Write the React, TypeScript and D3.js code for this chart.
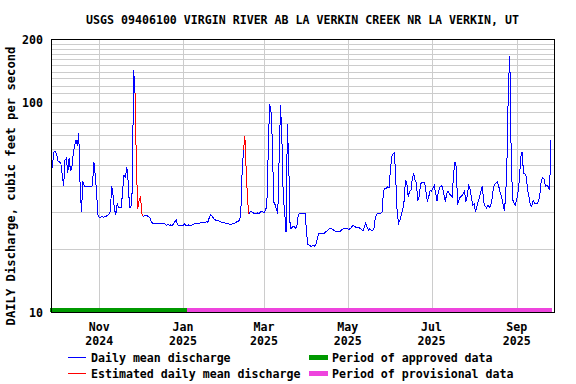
import React from 'react';
import * as d3 from 'd3';

const title = 'USGS 09406100 VIRGIN RIVER AB LA VERKIN CREEK NR LA VERKIN, UT';
const yAxisLabel = 'DAILY Discharge, cubic feet per second';

// first daily value date, then one value per day
const firstDay = '2024-09-27';
const discharge = [
  46, 51, 58, 58, 56, 52, 52, 51, 45, 40,
  53, 54, 46, 54, 47, 49, 57, 62, 66, 62,
  71, 40, 30, 42, 40, 39.5, 39.5, 39.5, 39.5, 39.5,
  40, 52, 45, 37, 29, 28.3, 28.3, 28.5, 28.3, 28.5,
  28.6, 28.9, 29.3, 30, 40, 36, 31, 29, 33, 31.5,
  31.4, 31.4, 38, 45, 44, 49, 42, 31.4, 31.4, 38,
  142, 110, 50, 31, 34, 35.5, 29.5, 28.6, 28.7, 28.7,
  28.7, 28.5, 28, 26.8, 26.5, 26.5, 26.5, 26.5, 26.5, 26.5,
  26.5, 26.5, 26.5, 26.2, 25.8, 26.2, 25.8, 26, 25.8, 26.2,
  26.9, 27.5, 26, 25.7, 25.7, 25.7, 25.7, 26.3, 25.9, 25.7,
  26, 25.8, 25.9, 26, 26.3, 26.5, 26.5, 26.3, 26.5, 26.8,
  26.8, 26.8, 26.7, 26.9, 26.8, 28, 29, 28.8, 28.1, 27.5,
  27.4, 27.4, 27.2, 26.9, 26.8, 26.6, 26.6, 26.5, 26.4, 26.3,
  26.1, 26.2, 26.3, 26.5, 26.6, 26.9, 26.9, 27.4, 29, 46,
  59, 69, 47, 34, 29.3, 30.2, 30, 29.7, 29.5, 29.3,
  29.7, 29.4, 29.7, 30.2, 30, 29.7, 30.7, 31.8, 57, 98,
  91, 66, 33.5, 32.5, 31, 29.5, 55, 97, 66, 35,
  30, 24, 79, 50, 25, 25, 25.7, 25.5, 25, 26,
  29.2, 29.6, 29.6, 29.6, 29.6, 29.6, 23.7, 21, 20.8, 20.6,
  20.6, 20.8, 20.6, 21.2, 22.8, 23.8, 23.7, 23.6, 23.6, 23.7,
  24.2, 24.4, 24.8, 24.9, 24.9, 24.8, 24.4, 24.3, 24.3, 24.2,
  24.2, 24.4, 24.8, 25, 25, 25, 24.9, 24.8, 25, 25.5,
  25.9, 25.6, 25.3, 25.3, 25.3, 25, 24.8, 24.4, 25.3, 26.5,
  25.5, 24.6, 24.9, 24.6, 24.4, 24.8, 28, 29.2, 29.5, 29.5,
  29.5, 30, 37.5, 38.8, 38.8, 39.5, 39, 47, 55, 56.5,
  57.5, 42, 29.5, 26.5, 27.4, 29.2, 30.5, 33.8, 42.6, 41,
  35.5, 37.5, 38, 43.5, 45.5, 42.6, 41, 33.8, 35.5, 40.7,
  41.3, 41.3, 41.3, 37, 33.6, 35.5, 38, 37.5, 39, 40,
  36.8, 33.8, 37.5, 39.3, 40, 39.3, 36.5, 33.6, 36.5, 37.8,
  36.5, 36, 35.5, 45, 52, 49, 32.5, 34.2, 35.5, 35.7,
  36.5, 37.5, 33.6, 35.5, 40, 38.8, 35.3, 32.3, 32.8, 30,
  31.8, 33.8, 35.3, 37.8, 39.6, 33.6, 32, 31.4, 32.3, 31.6,
  31.8, 34.5, 38.8, 40.7, 41.3, 41.7, 39.6, 37, 35.7, 32.8,
  30.4, 35.3, 55, 120, 166, 57, 34.5, 33, 32.3, 34.2,
  37.5, 42.6, 55, 58, 45.8, 45.8, 44.2, 38, 35.5, 32.3,
  31.8, 34, 33, 33, 33, 33.8, 36.8, 42.6, 43.8, 43,
  39.6, 40, 39.6, 38, 66,
];

// estimated-value periods (drawn red)
const estimatedStart = ['2024-11-27', '2025-02-14'];
const estimatedEnd = ['2024-12-03', '2025-02-18'];

const approvedThrough = '2025-01-04';

const domainStart = '2024-09-26T19:00:00Z';
const domainEnd = '2025-09-28T05:00:00Z';

const yTickValues = [10, 100, 200];
const yGridValues = [20, 30, 40, 50, 60, 70, 80, 90, 100, 110, 120, 130, 140, 150, 160, 170, 180, 190];

const xTickDates = ['2024-11-01', '2025-01-01', '2025-03-01', '2025-05-01', '2025-07-01', '2025-09-01'];
const xTickMonths = ['Nov', 'Jan', 'Mar', 'May', 'Jul', 'Sep'];
const xTickYears = ['2024', '2025', '2025', '2025', '2025', '2025'];

const legendItems = ['Daily mean discharge', 'Estimated daily mean discharge'];
const legendPeriods = ['Period of approved data', 'Period of provisional data'];

const W = 576;
const H = 384;
const M = { left: 51, right: 554, top: 39, bottom: 312 };
const FONT = '"DejaVu Sans Mono", "Liberation Mono", monospace';

const day = (s: string) => new Date(s.length === 10 ? s + 'T00:00:00Z' : s);

export default function App() {
  const x = d3.scaleUtc().domain([day(domainStart), day(domainEnd)]).range([M.left, M.right]);
  const y = d3.scaleLog().domain([10, 200]).range([M.bottom, M.top]);

  const first = day(firstDay);
  const pts = discharge.map((v, i) => ({ date: d3.utcDay.offset(first, i), v }));

  const estRanges = estimatedStart.map((s, i) => [day(s).getTime(), day(estimatedEnd[i]).getTime()]);
  const inEstInterior = (t: number) => estRanges.some(([a, b]) => t > a && t < b);
  const inEst = (t: number) => estRanges.some(([a, b]) => t >= a && t <= b);

  const blueLine = d3
    .line<{ date: Date; v: number }>()
    .x((d) => x(d.date))
    .y((d) => y(d.v))
    .defined((d) => !inEstInterior(d.date.getTime()));
  const bluePath = blueLine(pts) || '';
  const redLine = d3
    .line<{ date: Date; v: number }>()
    .x((d) => x(d.date))
    .y((d) => y(d.v))
    .defined((d) => inEst(d.date.getTime()));
  const redPath = redLine(pts) || '';

  const px = (v: number) => Math.round(v) + 0.5;

  const lastDate = pts[pts.length - 1].date;
  const barStart = x(first) - 1;
  const barMid = x(day(approvedThrough));
  const barEnd = x(lastDate) + 1;

  return (
    <svg
      width={W}
      height={H}
      style={{ position: 'absolute', left: 0, top: 0, background: '#fff' }}
      fontFamily={FONT}
      fontWeight="bold"
    >
      <rect x={0} y={0} width={W} height={H} fill="#fff" />
      <text x={(M.left + M.right) / 2} y={24} textAnchor="middle" fontSize={11.6} fill="#000">
        {title}
      </text>

      {/* grid */}
      <g shapeRendering="crispEdges" stroke="#cccccc" strokeWidth={1}>
        {yGridValues.map((v) => (
          <line key={'gy' + v} x1={M.left} x2={M.right} y1={px(y(v))} y2={px(y(v))} />
        ))}
        {xTickDates.map((s) => (
          <line key={'gx' + s} x1={px(x(day(s)))} x2={px(x(day(s)))} y1={M.top} y2={M.bottom} />
        ))}
      </g>

      {/* data */}
      <path d={bluePath} fill="none" stroke="#0000ff" strokeWidth={1} shapeRendering="crispEdges" />
      <path d={redPath} fill="none" stroke="#ff0000" strokeWidth={1} shapeRendering="crispEdges" />

      {/* status bar */}
      <g shapeRendering="crispEdges">
        <rect x={barStart} y={308} width={barMid - barStart} height={4} fill="#009900" />
        <rect x={barMid} y={308} width={barEnd - barMid} height={4} fill="#ee44dd" />
      </g>

      {/* frame */}
      <rect
        x={M.left + 0.5}
        y={M.top + 0.5}
        width={M.right - M.left}
        height={M.bottom - M.top}
        fill="none"
        stroke="#000"
        strokeWidth={1}
        shapeRendering="crispEdges"
      />

      {/* y tick labels */}
      {yTickValues.map((v) => (
        <text key={'yt' + v} x={43} y={y(v) + 4.5} textAnchor="end" fontSize={11.6} fill="#000">
          {v}
        </text>
      ))}
      <text
        transform={`translate(15,${186}) rotate(-90)`}
        textAnchor="middle"
        fontSize={12.2}
        fill="#000"
      >
        {yAxisLabel}
      </text>

      {/* x tick labels */}
      {xTickDates.map((s, i) => (
        <g key={'xt' + s}>
          <text x={x(day(s))} y={331} textAnchor="middle" fontSize={11.6} fill="#000">
            {xTickMonths[i]}
          </text>
          <text x={x(day(s))} y={345} textAnchor="middle" fontSize={11.6} fill="#000">
            {xTickYears[i]}
          </text>
        </g>
      ))}

      {/* legend */}
      <g shapeRendering="crispEdges">
        <rect x={68} y={357} width={18} height={1} fill="#0000ff" />
        <rect x={68} y={373} width={18} height={1} fill="#ff0000" />
        <rect x={309} y={355} width={19} height={5} fill="#009900" />
        <rect x={309} y={371} width={19} height={5} fill="#ee44dd" />
      </g>
      <g fontSize={11.6} fill="#000">
        <text x={91} y={362}>{legendItems[0]}</text>
        <text x={91} y={378}>{legendItems[1]}</text>
        <text x={332} y={362}>{legendPeriods[0]}</text>
        <text x={332} y={378}>{legendPeriods[1]}</text>
      </g>
    </svg>
  );
}
